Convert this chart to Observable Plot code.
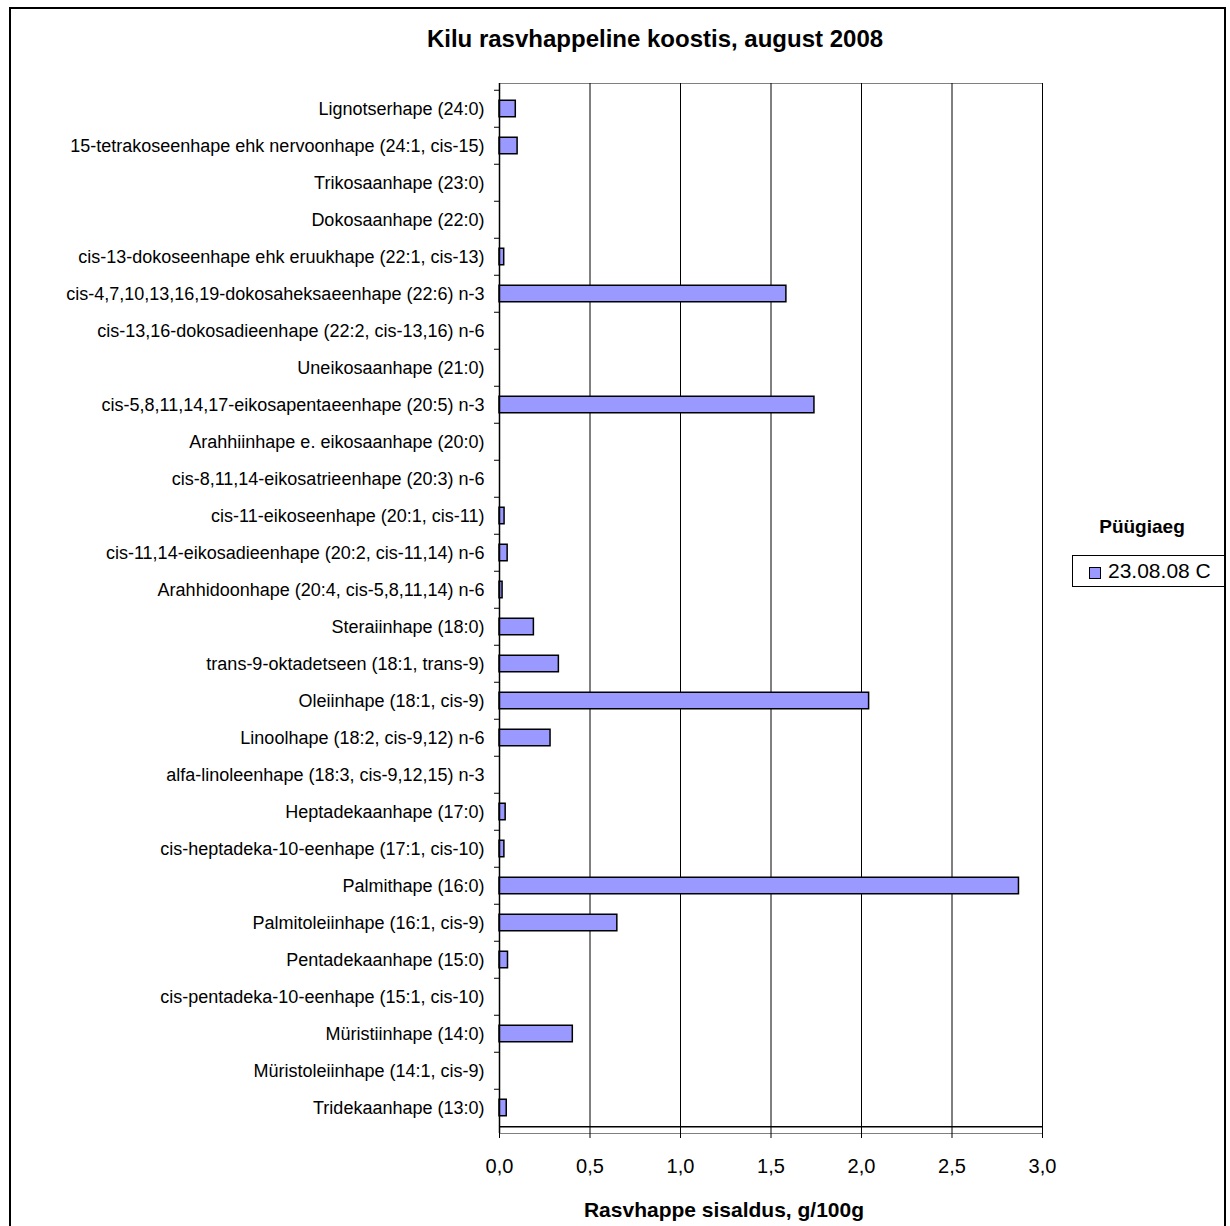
<!DOCTYPE html>
<html><head><meta charset="utf-8">
<script src="https://cdn.jsdelivr.net/npm/d3@7"></script>
<script src="https://cdn.jsdelivr.net/npm/@observablehq/plot@0.6"></script>
<style>
body{margin:0;background:#fff;font-family:"Liberation Sans",Arial,sans-serif;}
#wrap{position:relative;width:1230px;height:1226px;overflow:hidden;background:#fff}
#frame{position:absolute;left:9px;top:7px;width:1217px;height:1240px;border:2px solid #000;box-sizing:border-box}
#title{position:absolute;left:355px;width:600px;top:27px;line-height:24px;text-align:center;font-weight:bold;font-size:24px;color:#000}
#xtitle{position:absolute;left:524px;width:400px;top:1199px;line-height:21px;text-align:center;font-weight:bold;font-size:21px}
#chart{position:absolute;left:0;top:0}
#legtitle{position:absolute;left:1082px;width:120px;top:517px;line-height:19px;text-align:center;font-weight:bold;font-size:19px}
#legbox{position:absolute;left:1072px;top:555px;width:153px;height:32px;border:1px solid #000;box-sizing:border-box;background:#fff}
#legsw{position:absolute;left:16px;top:11px;width:12px;height:12px;box-sizing:border-box;background:#9999FF;border:1px solid #000}
#legtxt{position:absolute;left:35px;top:4px;line-height:21px;font-size:21px;white-space:nowrap}
</style></head>
<body>
<div id="wrap">
  <div id="frame"></div>
  <div id="chart"></div>
  <div id="title">Kilu rasvhappeline koostis, august 2008</div>
  <div id="xtitle">Rasvhappe sisaldus, g/100g</div>
  <div id="legtitle">Püügiaeg</div>
  <div id="legbox"><div id="legsw"></div><div id="legtxt">23.08.08 C</div></div>
</div>
<script>
const categories = [
  "Lignotserhape (24:0)",
  "15-tetrakoseenhape ehk nervoonhape (24:1, cis-15)",
  "Trikosaanhape (23:0)",
  "Dokosaanhape (22:0)",
  "cis-13-dokoseenhape ehk eruukhape (22:1, cis-13)",
  "cis-4,7,10,13,16,19-dokosaheksaeenhape (22:6) n-3",
  "cis-13,16-dokosadieenhape (22:2, cis-13,16) n-6",
  "Uneikosaanhape (21:0)",
  "cis-5,8,11,14,17-eikosapentaeenhape (20:5) n-3",
  "Arahhiinhape e. eikosaanhape (20:0)",
  "cis-8,11,14-eikosatrieenhape (20:3) n-6",
  "cis-11-eikoseenhape (20:1, cis-11)",
  "cis-11,14-eikosadieenhape (20:2, cis-11,14) n-6",
  "Arahhidoonhape (20:4, cis-5,8,11,14) n-6",
  "Steraiinhape (18:0)",
  "trans-9-oktadetseen (18:1, trans-9)",
  "Oleiinhape (18:1, cis-9)",
  "Linoolhape (18:2, cis-9,12) n-6",
  "alfa-linoleenhape (18:3, cis-9,12,15) n-3",
  "Heptadekaanhape (17:0)",
  "cis-heptadeka-10-eenhape (17:1, cis-10)",
  "Palmithape (16:0)",
  "Palmitoleiinhape (16:1, cis-9)",
  "Pentadekaanhape (15:0)",
  "cis-pentadeka-10-eenhape (15:1, cis-10)",
  "Müristiinhape (14:0)",
  "Müristoleiinhape (14:1, cis-9)",
  "Tridekaanhape (13:0)"
];
const values = [
  0.09, 0.10, 0, 0, 0.026, 1.585, 0, 0, 1.74, 0, 0, 0.028, 0.045, 0.017,
  0.19, 0.328, 2.042, 0.282, 0, 0.034, 0.027, 2.87, 0.651, 0.047, 0, 0.405, 0, 0.04
];
const seriesName = "23.08.08 C";
const xTicks = [0, 0.5, 1, 1.5, 2, 2.5, 3];
const xTickLabels = ["0,0", "0,5", "1,0", "1,5", "2,0", "2,5", "3,0"];

const data = categories.map((name, i) => ({name, v: values[i], series: seriesName}));
const half = 1050 / categories.length / 2;

const chart = Plot.plot({
  width: 1230, height: 1226,
  marginLeft: 499, marginRight: 188, marginTop: 83, marginBottom: 93,
  style: {fontFamily: '"Liberation Sans", Arial, sans-serif', fontSize: "18px", background: "transparent", color: "#000"},
  x: {domain: [0, 3], axis: null},
  y: {domain: categories, padding: 0, axis: null},
  marks: [
    Plot.frame({stroke: "#808080"}),
    Plot.ruleX(xTicks.slice(1), {stroke: "#000", strokeWidth: 1}),
    Plot.barX(data.filter(d => d.v > 0), {x: "v", y: "name", fill: "#9999FF", stroke: "#000", strokeWidth: 1.5, insetTop: 10.25, insetBottom: 10.25}),
    Plot.ruleX([0], {stroke: "#000", strokeWidth: 1.5}),
    Plot.ruleY([categories[categories.length - 1]], {stroke: "#000", strokeWidth: 1.5, dy: half}),
    Plot.axisY({tickSize: 0, tickPadding: 15, fontSize: 18, label: null}),
    Plot.axisY({tickSize: 5, tickFormat: () => "", dy: -half, label: null}),
    Plot.axisX({ticks: xTicks, tickFormat: (d) => xTickLabels[xTicks.indexOf(d)], tickSize: 5, tickPadding: 20, fontSize: 20, label: null})
  ]
});
document.getElementById("chart").appendChild(chart);
</script>
</body></html>
